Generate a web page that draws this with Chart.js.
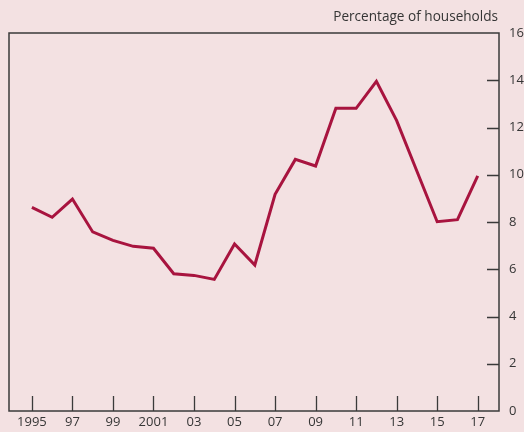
<!DOCTYPE html>
<html>
<head>
<meta charset="utf-8">
<script src="https://cdn.jsdelivr.net/npm/chart.js@4/dist/chart.umd.min.js"></script>
<style>
html,body{margin:0;padding:0;background:#f3e1e2;}
#wrap{width:524px;height:432px;position:relative;}
</style>
</head>
<body>
<div id="wrap"><canvas id="c" width="524" height="432"></canvas></div>
<script>
const years = [1995,1996,1997,1998,1999,2000,2001,2002,2003,2004,2005,2006,2007,2008,2009,2010,2011,2012,2013,2014,2015,2016,2017];
const values = [8.62,8.2,8.97,7.58,7.22,6.97,6.89,5.81,5.74,5.57,7.07,6.18,9.17,10.65,10.37,12.81,12.81,13.95,12.29,10.15,8.01,8.1,9.95];
const xTickYears = [1995,1997,1999,2001,2003,2005,2007,2009,2011,2013,2015,2017];
const xTickLabels = ['1995','97','99','2001','03','05','07','09','11','13','15','17'];
const yTicks = [0,2,4,6,8,10,12,14,16];
const unitLabel = 'Percentage of households';

const FONT = "'Open Sans', 'Noto Sans', sans-serif";
const TXT = '#353535';
const AXIS = '#3a3a3a';

const boxPlugin = {
  id: 'boxPlugin',
  beforeDraw(chart) {
    const ctx = chart.ctx;
    ctx.save();
    ctx.fillStyle = '#f3e1e2';
    ctx.fillRect(0, 0, chart.width, chart.height);
    ctx.restore();
  },
  afterDatasetsDraw(chart) {
    const {ctx, chartArea: a, scales} = chart;
    ctx.save();
    ctx.strokeStyle = AXIS;
    ctx.lineWidth = 1.5;
    ctx.strokeRect(a.left, a.top, a.right - a.left, a.bottom - a.top);
    ctx.lineWidth = 1.3;
    ctx.beginPath();
    xTickYears.forEach(yr => {
      const px = Math.round(scales.x.getPixelForValue(yr)) + 0.5;
      ctx.moveTo(px, a.bottom);
      ctx.lineTo(px, a.bottom - 15);
    });
    yTicks.forEach(v => {
      if (v === 0 || v === 16) return;
      const py = Math.round(scales.y.getPixelForValue(v)) + 0.5;
      ctx.moveTo(a.right, py);
      ctx.lineTo(a.right - 12, py);
    });
    ctx.stroke();
    ctx.fillStyle = TXT;
    ctx.font = "13.6px " + FONT;
    ctx.textAlign = 'right';
    ctx.textBaseline = 'middle';
    ctx.fillText(unitLabel, a.right - 1, 17);
    ctx.restore();
  }
};

new Chart(document.getElementById('c'), {
  type: 'line',
  data: {
    datasets: [{
      data: years.map((y, i) => ({x: y, y: values[i]})),
      borderColor: '#a8143f',
      borderWidth: 3,
      pointRadius: 0,
      tension: 0,
      fill: false,
      borderJoinStyle: 'miter',
      clip: false
    }]
  },
  options: {
    responsive: false,
    animation: false,
    devicePixelRatio: 1,
    layout: {padding: {left: 9, top: 33, right: 0, bottom: 0}},
    plugins: {legend: {display: false}, tooltip: {enabled: false}},
    scales: {
      x: {
        type: 'linear',
        min: 1993.87,
        max: 2018.05,
        afterBuildTicks(scale) { scale.ticks = xTickYears.map(v => ({value: v})); },
        afterFit(scale) { scale.height = 21; },
        grid: {display: false, drawTicks: false},
        border: {display: false},
        ticks: {
          autoSkip: false,
          maxRotation: 0,
          padding: 3,
          color: TXT,
          font: {family: FONT, size: 13},
          callback(v) { const i = xTickYears.indexOf(v); return i >= 0 ? xTickLabels[i] : ''; }
        }
      },
      y: {
        position: 'right',
        min: 0,
        max: 16,
        afterBuildTicks(scale) { scale.ticks = yTicks.map(v => ({value: v})); },
        afterFit(scale) { scale.width = 25; },
        grid: {display: false, drawTicks: false},
        border: {display: false},
        ticks: {
          padding: 10,
          color: TXT,
          font: {family: FONT, size: 13}
        }
      }
    }
  },
  plugins: [boxPlugin]
});
</script>
</body>
</html>
